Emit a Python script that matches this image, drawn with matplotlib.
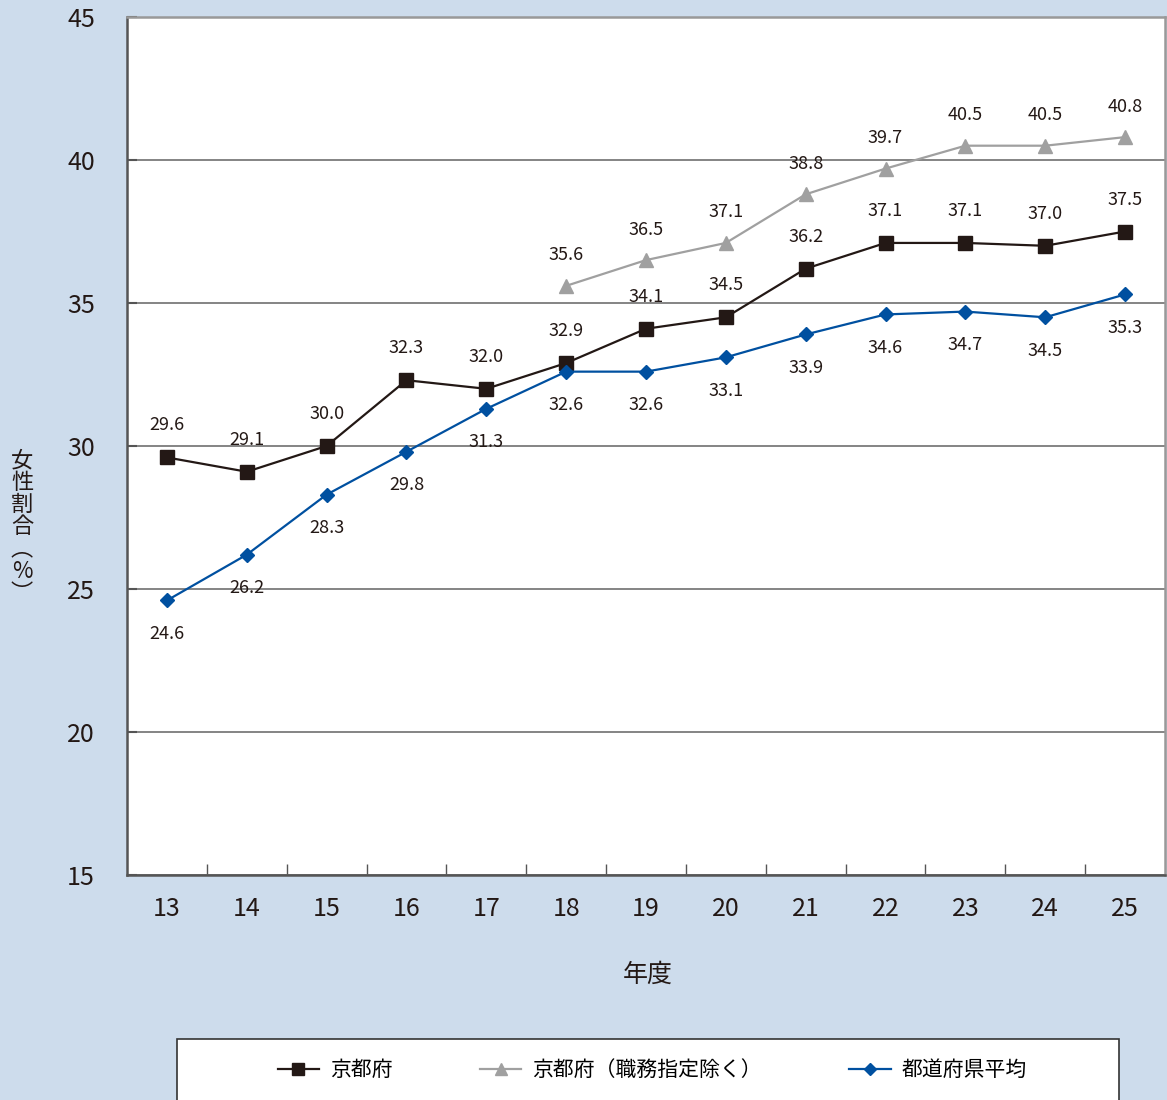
import numpy as np
import matplotlib.pyplot as plt
from matplotlib.patches import Rectangle

plt.rcParams['font.family'] = ['Noto Sans CJK JP', 'DejaVu Sans']

# data (年度 13-25)
years = [13, 14, 15, 16, 17, 18, 19, 20, 21, 22, 23, 24, 25]
kyoto = [29.6, 29.1, 30.0, 32.3, 32.0, 32.9, 34.1, 34.5, 36.2, 37.1, 37.1, 37.0, 37.5]
years_ex = [18, 19, 20, 21, 22, 23, 24, 25]
kyoto_ex = [35.6, 36.5, 37.1, 38.8, 39.7, 40.5, 40.5, 40.8]
pref_avg = [24.6, 26.2, 28.3, 29.8, 31.3, 32.6, 32.6, 33.1, 33.9, 34.6, 34.7, 34.5, 35.3]

names = ["京都府", "京都府（職務指定除く）", "都道府県平均"]
bg = "#cddcec"
c_black = "#231815"
c_gray = "#a0a0a0"
c_blue = "#0050a0"

fig = plt.figure(figsize=(11.67, 11.0), dpi=100, facecolor=bg)
ax = fig.add_axes([127 / 1167, 1 - 875 / 1100, 1038 / 1167, 858 / 1100])
ax.set_facecolor("white")

ax.plot(years, kyoto, color=c_black, lw=1.6, marker="s", ms=9.5, label=names[0], zorder=4)
ax.plot(years_ex, kyoto_ex, color=c_gray, lw=1.6, marker="^", ms=10, label=names[1], zorder=3)
ax.plot(years, pref_avg, color=c_blue, lw=1.6, marker="D", ms=7, label=names[2], zorder=5)

for x, y in zip(years, kyoto):
    ax.annotate(f"{y:.1f}", (x, y), xytext=(0, 23), textcoords="offset points",
                ha="center", va="center", fontsize=13, color=c_black)
for x, y in zip(years_ex, kyoto_ex):
    ax.annotate(f"{y:.1f}", (x, y), xytext=(0, 22), textcoords="offset points",
                ha="center", va="center", fontsize=13, color=c_black)
for x, y in zip(years, pref_avg):
    ax.annotate(f"{y:.1f}", (x, y), xytext=(0, -24), textcoords="offset points",
                ha="center", va="center", fontsize=13, color=c_black)

ax.set_xlim(12.5, 25.5)
ax.set_ylim(15, 45)
ax.set_xticks(years)
ax.set_xticks(np.arange(13.5, 25, 1), minor=True)
ax.set_yticks([15, 20, 25, 30, 35, 40, 45])
ax.tick_params(axis="x", which="major", length=0, pad=15, labelsize=18, labelcolor=c_black)
ax.tick_params(axis="x", which="minor", direction="in", length=8, width=1, color="#555555")
ax.tick_params(axis="y", direction="in", length=7, width=1.5, pad=23, labelsize=18,
               labelcolor=c_black, color="#555555")

ax.grid(axis="y", color="#707070", lw=1.2)
ax.set_axisbelow(True)
ax.spines["left"].set_color("#555555")
ax.spines["left"].set_linewidth(1.8)
ax.spines["bottom"].set_color("#555555")
ax.spines["bottom"].set_linewidth(1.8)
ax.spines["top"].set_color("#999999")
ax.spines["top"].set_linewidth(1.8)
ax.spines["right"].set_color("#999999")
ax.spines["right"].set_linewidth(1.8)

fig.text(648 / 1167, 1 - 975 / 1100, "年度", ha="center", va="center", fontsize=18, color=c_black)
fig.text(22 / 1167, 1 - 527 / 1100, "\n".join("女性割合︵%︶"), ha="center", va="center",
         fontsize=16, color=c_black, linespacing=0.95)

# legend box at the bottom
fig.patches.append(Rectangle((177 / 1167, -0.02), 942 / 1167, 0.02 + 1 - 1039 / 1100,
                             transform=fig.transFigure, facecolor="white",
                             edgecolor="#333333", lw=1.2))
handles, labels = ax.get_legend_handles_labels()
fig.legend(handles, labels, loc="center", bbox_to_anchor=(652 / 1167, 1 - 1070 / 1100),
           ncol=3, frameon=False, fontsize=15, handlelength=2.0, handletextpad=0.5,
           columnspacing=4.2, markerscale=0.85)

fig.savefig("out.png", dpi=100, facecolor=bg)
